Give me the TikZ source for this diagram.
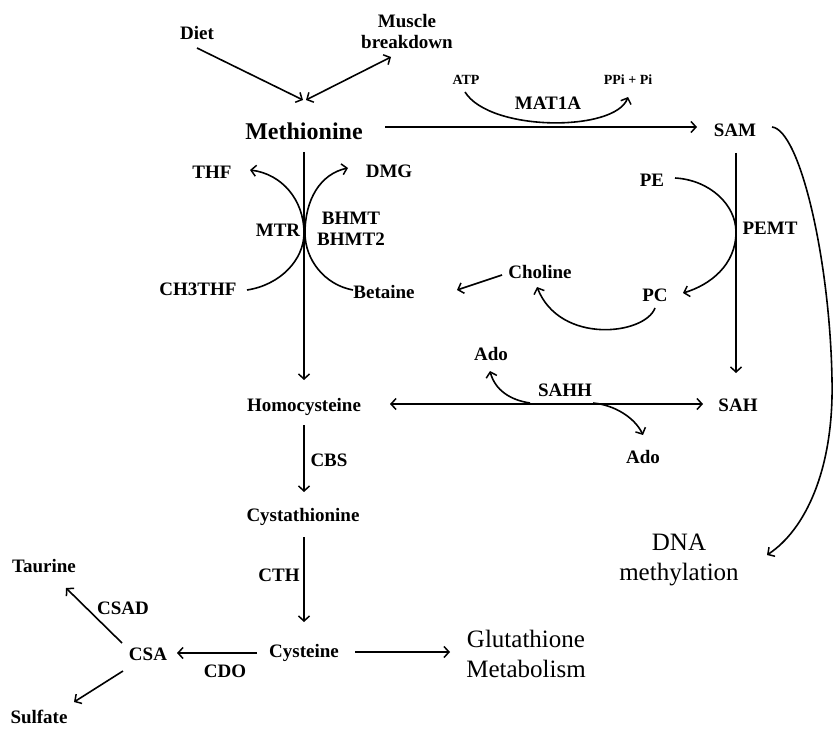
\documentclass[tikz,border=0pt]{standalone}
\usepackage{fontspec}
\setmainfont{Liberation Serif}
\usetikzlibrary{arrows.meta}
\begin{document}
\begin{tikzpicture}[x=1pt,y=-1pt,
  lab/.style={font=\fontsize{19}{21}\selectfont\bfseries, inner sep=0pt, align=center},
  small/.style={font=\fontsize{14}{16}\selectfont\bfseries, inner sep=0pt},
  plain/.style={font=\fontsize{25}{30}\selectfont, inner sep=0pt, align=center},
  tip/.tip={Straight Barb[length=5pt,width=11pt,line width=1.5pt]},
  conn/.style={line width=1.6pt, -tip},
  dbl/.style={line width=1.6pt, tip-tip},
  ln/.style={line width=1.6pt}]
\useasboundingbox (0,0) rectangle (833,730);
% nodes
\node[lab] (diet) at (197,33) {Diet};
\node[lab] (muscle) at (407,32) {Muscle\\breakdown};
\node[font=\fontsize{24}{26}\selectfont\bfseries, inner sep=0pt] (met) at (304,131) {Methionine};
\node[lab] (sam) at (735,130) {SAM};
\node[small] (atp) at (466,80) {ATP};
\node[small] (ppi) at (628,80) {PPi + Pi};
\node[lab] (mat) at (548,103) {MAT1A};
\node[lab] (thf) at (212,172) {THF};
\node[lab] (dmg) at (389,171) {DMG};
\node[lab] (mtr) at (278,230) {MTR};
\node[lab] (bhmt) at (351,229) {BHMT\\BHMT2};
\node[lab] (ch3thf) at (198,289) {CH3THF};
\node[lab] (betaine) at (384,292) {Betaine};
\node[lab] (pe) at (652,180) {PE};
\node[lab] (pemt) at (770,228) {PEMT};
\node[lab] (pc) at (655,295) {PC};
\node[lab] (choline) at (540,272) {Choline};
\node[lab] (ado1) at (491,354) {Ado};
\node[lab] (sahh) at (565,390) {SAHH};
\node[lab] (sah) at (738,405) {SAH};
\node[lab] (ado2) at (643,457) {Ado};
\node[lab] (hcy) at (304,407) {Homocysteine};
\node[lab] (cbs) at (329,460) {CBS};
\node[lab] (cysta) at (303,517) {Cystathionine};
\node[lab] (cth) at (279,575) {CTH};
\node[lab] (cys) at (304,653) {Cysteine};
\node[plain] (glu) at (526,654) {Glutathione\\Metabolism};
\node[plain] (dna) at (679,560) {DNA\\methylation};
\node[lab] (csa) at (148,654) {CSA};
\node[lab] (cdo) at (225,671) {CDO};
\node[lab] (csad) at (123,608) {CSAD};
\node[lab] (taurine) at (44,566) {Taurine};
\node[lab] (sulfate) at (39,717) {Sulfate};
% connector end points
\coordinate (dietOut) at (197,48);
\coordinate (metInA) at (303,100);
\coordinate (musEnd) at (391,57);
\coordinate (metInB) at (306,100);
\coordinate (metOut) at (385,127);
\coordinate (samIn) at (697,127);
\coordinate (atpOut) at (465,92);
\coordinate (ppiIn) at (628,97);
\coordinate (samOutD) at (736,153);
\coordinate (sahIn) at (736,373);
\coordinate (samOutR) at (772,127);
\coordinate (farR) at (832,380);
\coordinate (dnaIn) at (767,555);
\coordinate (peOut) at (675,178);
\coordinate (pemtTouch) at (736,232);
\coordinate (pcIn) at (683,293);
\coordinate (pcOut) at (655,308);
\coordinate (cholIn) at (537,287);
\coordinate (cholOut) at (502,275);
\coordinate (betIn) at (457,290);
\coordinate (ch3Out) at (247,290);
\coordinate (mtrTouch) at (304,233);
\coordinate (thfIn) at (250,170);
\coordinate (betOut) at (353,290);
\coordinate (bhTouch) at (305,233);
\coordinate (dmgIn) at (348,168);
\coordinate (metOutD) at (304,152);
\coordinate (hcyIn) at (304,380);
\coordinate (hcyR) at (390,404);
\coordinate (sahL) at (703,404);
\coordinate (adoA) at (530,403);
\coordinate (ado1In) at (490,371);
\coordinate (adoB) at (593,403);
\coordinate (ado2In) at (643,435);
\coordinate (hcyOut) at (304,425);
\coordinate (cystaIn) at (304,492);
\coordinate (cystaOut) at (304,537);
\coordinate (cysIn) at (304,622);
\coordinate (cysOutR) at (355,652);
\coordinate (gluIn) at (450,652);
\coordinate (cysOutL) at (257,653);
\coordinate (csaIn) at (177,653);
\coordinate (csaOutU) at (122,643);
\coordinate (taurIn) at (66,588);
\coordinate (csaOutD) at (123,671);
\coordinate (sulfIn) at (74,702);
% connectors
\draw[conn] (dietOut) -- (metInA);
\draw[dbl] (musEnd) -- (metInB);
\draw[conn] (metOut) -- (samIn);
\draw[conn] (atpOut) .. controls (490,132) and (615,132) .. (ppiIn);
\draw[conn] (samOutD) -- (sahIn);
\draw[conn] (samOutR) .. controls (800,130) and (830,260) .. (farR) .. controls (834,470) and (805,530) .. (dnaIn);
\draw[conn] (peOut) .. controls (710,180) and (736,205) .. (pemtTouch) .. controls (736,265) and (710,285) .. (pcIn);
\draw[conn] (pcOut) .. controls (645,335) and (560,345) .. (cholIn);
\draw[conn] (cholOut) -- (betIn);
\draw[conn] (ch3Out) .. controls (280,285) and (304,260) .. (mtrTouch) .. controls (304,200) and (282,174) .. (thfIn);
\draw[conn] (betOut) .. controls (325,285) and (305,260) .. (bhTouch) .. controls (305,200) and (320,174) .. (dmgIn);
\draw[conn] (metOutD) -- (hcyIn);
\draw[dbl] (hcyR) -- (sahL);
\draw[conn] (adoA) .. controls (510,400) and (495,390) .. (ado1In);
\draw[conn] (adoB) .. controls (615,405) and (635,418) .. (ado2In);
\draw[conn] (hcyOut) -- (cystaIn);
\draw[conn] (cystaOut) -- (cysIn);
\draw[conn] (cysOutR) -- (gluIn);
\draw[conn] (cysOutL) -- (csaIn);
\draw[conn] (csaOutU) -- (taurIn);
\draw[conn] (csaOutD) -- (sulfIn);
\end{tikzpicture}
\end{document}
